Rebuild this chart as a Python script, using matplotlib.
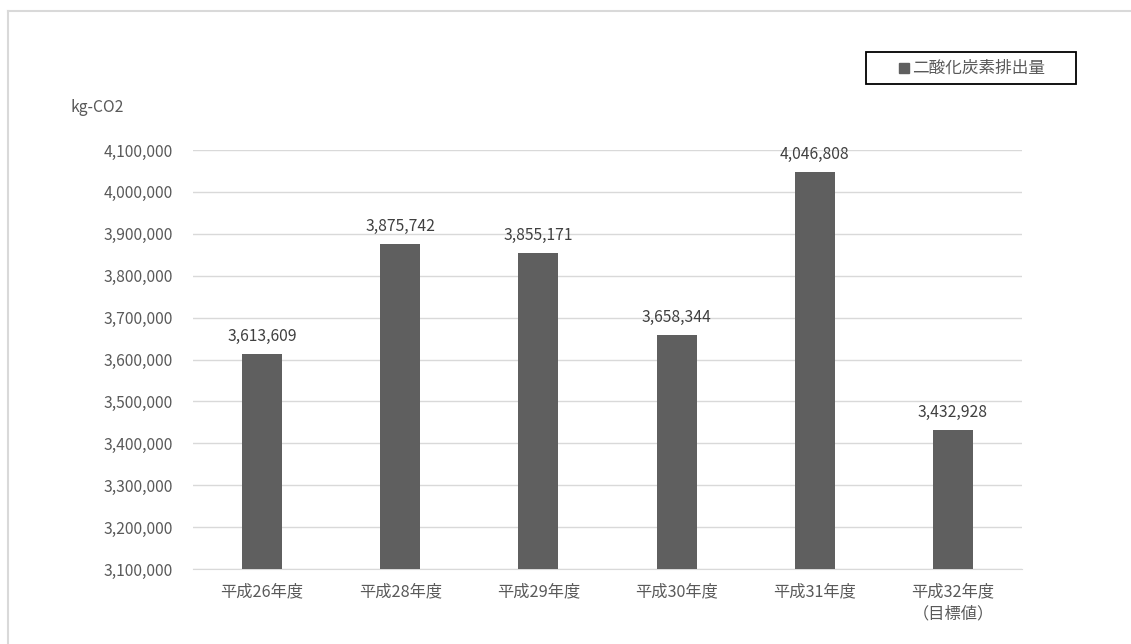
import matplotlib
matplotlib.use("Agg")
import matplotlib.pyplot as plt
from matplotlib.lines import Line2D
from matplotlib.patches import Rectangle
from matplotlib.ticker import FuncFormatter

plt.rcParams['font.family'] = ['Noto Sans CJK JP', 'DejaVu Sans']

# data
categories = ["平成26年度", "平成28年度", "平成29年度", "平成30年度", "平成31年度", "平成32年度\n（目標値）"]
emissions = [3613609, 3875742, 3855171, 3658344, 4046808, 3432928]
series_name = "二酸化炭素排出量"
unit_label = "kg-CO2"

bar_color = "#5f5f5f"
text_color = "#595959"
grid_color = "#d9d9d9"

W, H = 1131, 644
fig = plt.figure(figsize=(W / 100, H / 100), dpi=100)
ax = fig.add_axes([193 / W, (H - 569) / H, 829 / W, 419 / H])

x = range(len(categories))
bars = ax.bar(x, emissions, width=0.29, color=bar_color, zorder=3)

ax.set_ylim(3100000, 4100000)
ax.set_yticks(range(3100000, 4100001, 100000))
ax.yaxis.set_major_formatter(FuncFormatter(lambda v, p: f"{int(v):,}"))
ax.set_xlim(-0.5, len(categories) - 0.5)
ax.set_xticks(list(x))
ax.set_xticklabels(categories, fontsize=11.7, color=text_color, linespacing=1.45)
ax.tick_params(axis='y', labelsize=11.3, labelcolor=text_color, length=0, pad=14.5)
ax.tick_params(axis='x', length=0, pad=10)
ax.grid(axis='y', color=grid_color, linewidth=1, zorder=0)
for s in ["top", "right", "left"]:
    ax.spines[s].set_visible(False)
ax.spines["bottom"].set_color(grid_color)

# value labels
for b, v in zip(bars, emissions):
    ax.annotate(f"{v:,}", (b.get_x() + b.get_width() / 2, v),
                xytext=(0, 6.5), textcoords="offset points",
                ha="center", va="bottom", fontsize=11.3, color="#404040")

fig.text(70 / W, 1 - 108 / H, unit_label, fontsize=11.3, color=text_color,
         ha="left", va="center")

# legend box
fig.add_artist(Rectangle((866 / W, 1 - 84 / H), 210 / W, 32 / H, transform=fig.transFigure,
                         facecolor="white", edgecolor="black", linewidth=1.3))
fig.add_artist(Line2D([904 / W], [1 - 68 / H], marker="s", markersize=7.5,
                      color=bar_color, linestyle="none"))
fig.text(912 / W, 1 - 68 / H, series_name, fontsize=12, color=text_color,
         ha="left", va="center")

# outer chart border (top and left visible)
fig.add_artist(Line2D([8 / W, 1], [1 - 11 / H, 1 - 11 / H], color="#d9d9d9", lw=1.5))
fig.add_artist(Line2D([8 / W, 8 / W], [0, 1 - 11 / H], color="#d9d9d9", lw=1.5))

fig.savefig("out.png", dpi=100)
